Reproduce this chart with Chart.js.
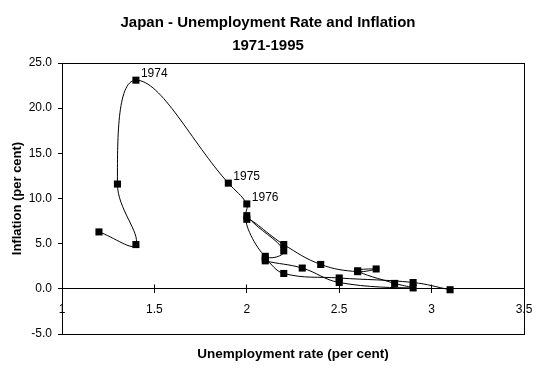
<!DOCTYPE html>
<html><head><meta charset="utf-8">
<script src="https://cdn.jsdelivr.net/npm/chart.js@4/dist/chart.umd.min.js"></script>
<style>html,body{margin:0;padding:0;background:#fff;}canvas{display:block;}</style>
</head><body>
<canvas id="c" width="546" height="369"></canvas>
<script>
// ---- data ----
const years = [1971,1972,1973,1974,1975,1976,1977,1978,1979,1980,1981,1982,1983,1984,1985,1986,1987,1988,1989,1990,1991,1992,1993,1994,1995];
const unemployment = [1.2,1.4,1.3,1.4,1.9,2.0,2.0,2.2,2.1,2.0,2.2,2.4,2.6,2.7,2.6,2.8,2.9,2.5,2.3,2.1,2.1,2.2,2.5,2.9,3.1];
const inflation = [6.3,4.9,11.6,23.1,11.7,9.4,8.1,4.2,3.6,7.7,4.9,2.7,1.9,2.2,2.0,0.6,0.1,0.7,2.3,3.1,3.3,1.7,1.2,0.7,-0.1];
const labelledYears = [1974,1975,1976];
const xTickValues = [1,1.5,2,2.5,3,3.5];
const yTickValues = [-5,0,5,10,15,20,25];
const titleLines = ['Japan - Unemployment Rate and Inflation','1971-1995'];
const xTitle = 'Unemployment rate (per cent)';
const yTitle = 'Inflation (per cent)';

const FONT = '"Liberation Sans", Arial, sans-serif';
Chart.defaults.font.family = FONT;
Chart.defaults.color = '#000';

const bgAndBox = {
  id: 'bgAndBox',
  beforeDraw(chart) {
    const {ctx, width, height} = chart;
    ctx.save(); ctx.fillStyle = '#fff'; ctx.fillRect(0, 0, width, height); ctx.restore();
  },
  afterDraw(chart) {
    const {ctx, chartArea: a, scales} = chart;
    ctx.save();
    ctx.strokeStyle = '#000'; ctx.lineWidth = 1;
    const l = Math.floor(a.left) + 0.5, t = Math.floor(a.top) + 0.5;
    const r = Math.floor(a.right) + 0.5, b = Math.floor(a.bottom) + 0.5;
    ctx.strokeRect(l, t, r - l, b - t);
    // upper half of the cross tick marks on the x axis
    const xs = scales.x, ys = scales.y;
    const y0 = Math.floor(ys.getPixelForValue(0)) + 0.5;
    ctx.beginPath();
    xs.ticks.forEach(tk => {
      const px = Math.floor(xs.getPixelForValue(tk.value)) + 0.5;
      ctx.moveTo(px, y0 - 4); ctx.lineTo(px, y0);
    });
    ctx.stroke();
    ctx.restore();
  }
};

const yearLabels = {
  id: 'yearLabels',
  afterDatasetsDraw(chart) {
    const {ctx} = chart;
    const meta = chart.getDatasetMeta(0);
    ctx.save();
    ctx.fillStyle = '#000';
    ctx.font = '12px ' + FONT;
    ctx.textAlign = 'left';
    ctx.textBaseline = 'middle';
    labelledYears.forEach(yr => {
      const el = meta.data[years.indexOf(yr)];
      ctx.fillText(String(yr), el.x + 5, el.y - 6);
    });
    ctx.restore();
  }
};

new Chart(document.getElementById('c'), {
  type: 'scatter',
  data: {
    datasets: [{
      data: unemployment.map((u, i) => ({x: u, y: inflation[i]})),
      showLine: true,
      borderColor: '#000',
      borderWidth: 1,
      tension: 0.4,
      fill: false,
      pointStyle: 'rect',
      pointRadius: 5,
      pointBackgroundColor: '#000',
      pointBorderWidth: 0,
      xAxisID: 'x',
      yAxisID: 'y'
    }]
  },
  options: {
    responsive: false,
    animation: false,
    events: [],
    devicePixelRatio: 1,
    layout: {padding: {left: 12, right: 22, top: 0, bottom: 0}},
    plugins: {
      legend: {display: false},
      tooltip: {enabled: false},
      title: {
        display: true,
        text: titleLines,
        color: '#000',
        font: {family: FONT, size: 15, weight: 'bold', lineHeight: '23px'},
        padding: {top: 11, bottom: 6}
      }
    },
    scales: {
      x: {
        type: 'linear',
        position: {y: 0},
        min: xTickValues[0],
        max: xTickValues[xTickValues.length - 1],
        afterBuildTicks(s) { s.ticks = xTickValues.map(v => ({value: v})); },
        ticks: {color: '#000', font: {size: 12}, padding: 10, maxRotation: 0, autoSkip: false, callback: v => String(v)},
        grid: {display: true, drawOnChartArea: false, tickLength: 4, color: '#000', tickColor: '#000'},
        border: {display: true, color: '#000', width: 1},
        afterFit(s) { s.height = 0; }
      },
      x2: {
        type: 'linear',
        position: 'bottom',
        min: xTickValues[0],
        max: xTickValues[xTickValues.length - 1],
        ticks: {display: false},
        grid: {display: false},
        border: {display: false},
        title: {display: true, text: xTitle, color: '#000', font: {size: 13.5, weight: 'bold'}, padding: {top: 0, bottom: 7}},
        afterFit(s) { s.height = 35; }
      },
      y: {
        type: 'linear',
        min: yTickValues[0],
        max: yTickValues[yTickValues.length - 1],
        afterBuildTicks(s) { s.ticks = yTickValues.map(v => ({value: v})); },
        ticks: {color: '#000', font: {size: 12}, padding: 6, callback: v => Number(v).toFixed(1)},
        grid: {display: true, drawOnChartArea: false, tickLength: 4, color: '#000', tickColor: '#000'},
        border: {display: true, color: '#000', width: 1},
        title: {display: true, text: yTitle, color: '#000', font: {size: 13, weight: 'bold', lineHeight: '10px'}, padding: {top: 0, bottom: 0}},
        afterFit(s) { s.width = 50; }
      }
    }
  },
  plugins: [bgAndBox, yearLabels]
});
</script>
</body></html>
